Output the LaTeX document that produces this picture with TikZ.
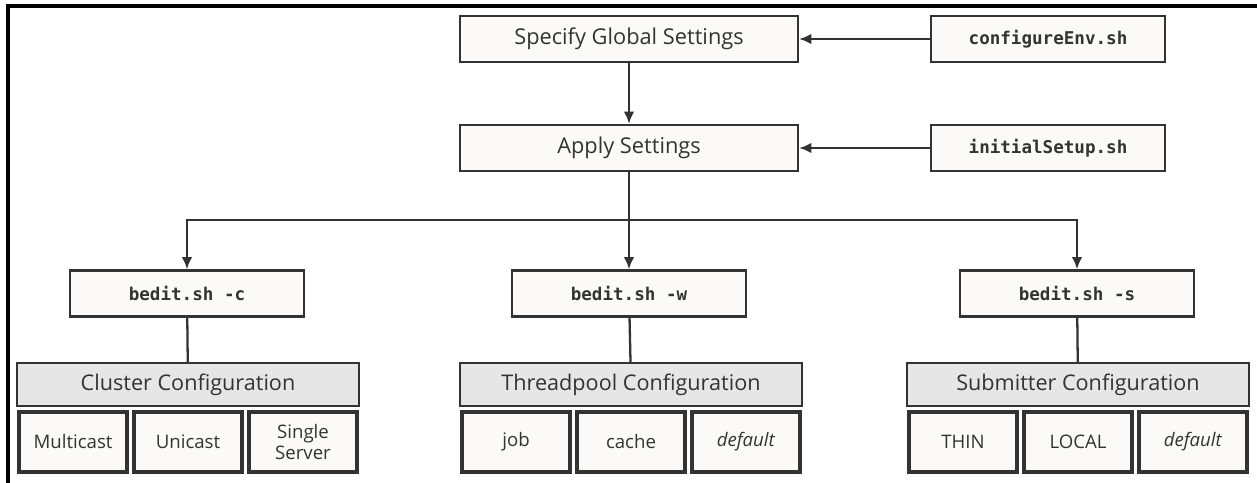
\documentclass[tikz,border=0pt]{standalone}
\usepackage{fontspec}
\setmainfont{Open Sans}
\setmonofont{DejaVu Sans Mono}
\usetikzlibrary{arrows.meta}
\definecolor{boxline}{HTML}{333333}
\definecolor{boxfill}{HTML}{FBFAF8}
\definecolor{headfill}{HTML}{E6E6E6}
\tikzset{
  stepbox/.style={draw=boxline,fill=boxfill,line width=1.3pt,text=boxline,
    minimum width=6.76cm,minimum height=0.92cm,inner sep=0pt,font=\fontsize{12.4}{14}\selectfont},
  scriptbox/.style={draw=boxline,fill=boxfill,line width=1.3pt,text=boxline,
    minimum width=4.68cm,minimum height=0.92cm,inner sep=0pt,font=\ttfamily\bfseries\fontsize{10}{12}\selectfont},
  headbox/.style={draw=boxline,fill=headfill,line width=1.1pt,text=boxline,
    minimum width=6.84cm,minimum height=0.86cm,inner sep=0pt,font=\fontsize{12.3}{14}\selectfont},
  optbox/.style={draw=boxline,fill=boxfill,line width=2.3pt,text=boxline,
    minimum width=2.16cm,minimum height=1.2cm,inner sep=0pt,align=center,
    font=\fontsize{10.6}{12.5}\selectfont},
  link/.style={draw=boxline,line width=1.3pt},
  arrow/.style={link,-{Latex[length=7pt,width=6pt]}}
}
\begin{document}
\begin{tikzpicture}[x=0.02cm,y=-0.02cm]
  \useasboundingbox (0,0) rectangle (1257,483);
  % frame
  \draw[line width=1.8pt] (8,483) -- (8,6) -- (1257,6);

  % settings
  \node[stepbox] (spec) at (629,39) {Specify Global Settings};
  \node[scriptbox] (cenv) at (1048,39) {configureEnv.sh};
  \node[stepbox] (apply) at (629,148) {Apply Settings};
  \node[scriptbox] (isetup) at (1048,148) {initialSetup.sh};

  \draw[arrow] (cenv) -- (spec);
  \draw[arrow] (isetup) -- (apply);
  \draw[arrow] (spec) -- (apply);

  % bedit calls
  \node[scriptbox] (bc) at (187,293.5) {bedit.sh -c};
  \node[scriptbox] (bw) at (629,293.5) {bedit.sh -w};
  \node[scriptbox] (bs) at (1077,293.5) {bedit.sh -s};

  \coordinate (split) at (629,220);
  \draw[link] (apply.south) -- (split);
  \draw[arrow] (split) -- (bw.north);
  \draw[arrow] (split) -| (bc.north);
  \draw[arrow] (split) -| (bs.north);

  % configuration groups
  \node[headbox] (cc) at (188,384.5) {Cluster Configuration};
  \node[headbox] (tc) at (631,384.5) {Threadpool Configuration};
  \node[headbox] (sc) at (1078,384.5) {Submitter Configuration};

  \draw[link] (bc) -- (cc);
  \draw[link] (bw) -- (tc);
  \draw[link] (bs) -- (sc);

  \foreach \lbl [count=\i] in {Multicast,Unicast,{Single\\Server}}
    \node[optbox] (cl\i) at (73+115*\i-115,442) {\lbl};
  \foreach \lbl [count=\i] in {job,cache,\textit{default}}
    \node[optbox] (tp\i) at (516+115*\i-115,442) {\lbl};
  \foreach \lbl [count=\i] in {THIN,LOCAL,\textit{default}}
    \node[optbox] (sb\i) at (963+115*\i-115,442) {\lbl};
\end{tikzpicture}
\end{document}
